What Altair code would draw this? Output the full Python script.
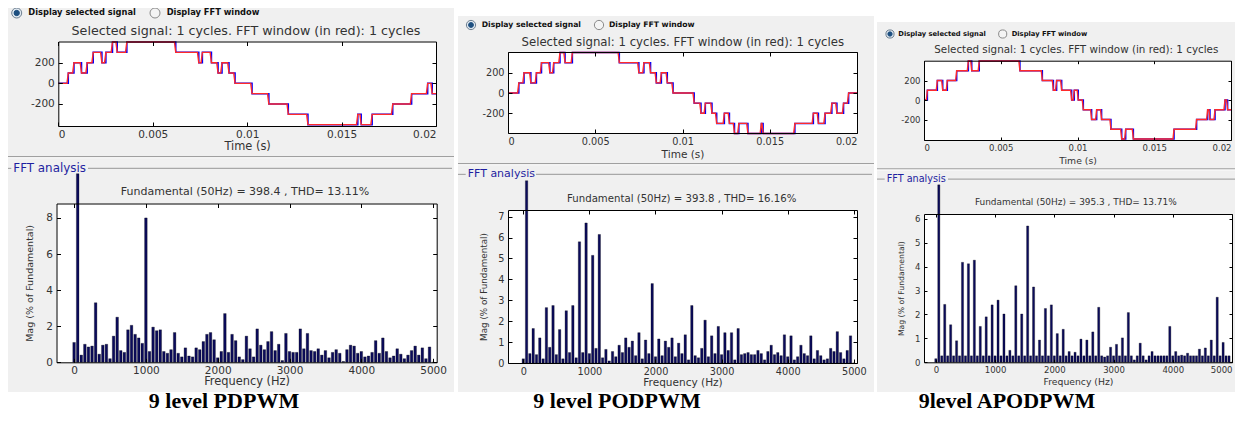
import altair as alt
import pandas as pd

# ---------------- canvas ----------------
W, H = 1227, 405
OX, OY = 8, 8


def vx(x):
    return round(x - OX, 2)


def vy(y):
    return round(y - OY, 2)


FONT = "DejaVu Sans"
SERIF = "Liberation Serif"
TXT = "#333333"

# ---------------- data ----------------
captions = ["9 level PDPWM", "9 level PODPWM", "9level APODPWM"]
fund_texts = [
    "Fundamental (50Hz) = 398.4 , THD= 13.11%",
    "Fundamental (50Hz) = 393.8 , THD= 16.16%",
    "Fundamental (50Hz) = 395.3 , THD= 13.71%",
]
sel_title = "Selected signal: 1 cycles. FFT window (in red): 1 cycles"
radio_labels = ["Display selected signal", "Display FFT window"]
fft_label = "FFT analysis"
time_title = "Time (s)"
freq_title = "Frequency (Hz)"
mag_title = "Mag (% of Fundamental)"

# harmonic frequencies (Hz)
freqs = [50 * k for k in range(101)]

# FFT magnitudes (% of fundamental), fundamental bar shown at its visible (clipped) height
mag_pd = [1.1, 10.45, 0.4, 1.0, 0.85, 0.9, 3.3, 0.45, 0.95, 1.0,
          0.2, 1.45, 2.5, 0.65, 0.55, 1.8, 2.05, 1.55, 1.35, 1.05,
          8.0, 0.6, 1.95, 1.75, 1.8, 0.6, 0.5, 0.7, 1.65, 0.5,
          0.3, 0.8, 0.35, 0.3, 0.8, 0.7, 1.15, 1.55, 1.65, 1.25,
          0.25, 0.6, 2.7, 0.55, 1.55, 1.2, 0.3, 0.15, 1.45, 0.75,
          0.3, 1.85, 0.95, 0.7, 1.15, 1.7, 0.65, 1.0, 0.1, 1.6,
          0.6, 0.55, 0.55, 1.85, 0.75, 1.6, 0.65, 0.6, 0.75, 0.4,
          0.65, 0.25, 0.55, 0.7, 0.5, 0.05, 0.7, 0.95, 0.9, 0.5,
          0.6, 0.3, 0.35, 0.55, 1.2, 0.5, 1.35, 0.6, 0.25, 0.35,
          0.75, 0.45, 0.2, 0.4, 0.65, 0.9, 0.4, 0.8, 0.2, 0.85,
          0.0]
mag_pod = [0.2, 8.72, 0.45, 1.65, 0.4, 1.2, 0.2, 2.65, 0.75, 2.75,
           0.4, 1.6, 0.2, 2.5, 0.5, 2.75, 0.25, 5.8, 0.5, 6.7,
           0.45, 5.15, 0.7, 6.15, 0.25, 0.65, 0.1, 0.55, 0.3, 0.85,
           0.5, 1.2, 0.75, 1.05, 0.35, 1.45, 0.2, 1.1, 0.45, 3.8,
           0.3, 1.15, 0.35, 1.05, 0.75, 1.2, 0.3, 0.95, 0.45, 1.35,
           0.15, 2.75, 0.35, 0.25, 0.7, 2.05, 0.3, 1.3, 0.45, 1.75,
           0.4, 1.45, 0.6, 1.45, 0.15, 1.65, 0.4, 0.45, 0.5, 0.4,
           0.4, 0.6, 0.45, 0.15, 0.55, 0.85, 0.4, 0.5, 0.35, 1.35,
           0.3, 1.3, 0.15, 0.3, 0.85, 0.45, 0.35, 1.3, 0.2, 0.6,
           0.35, 0.15, 0.2, 0.7, 0.55, 1.5, 0.5, 0.2, 0.6, 1.3,
           0.0]
mag_apod = [0.15, 7.42, 0.27, 2.42, 0.27, 1.57, 0.27, 0.9, 0.27, 4.18,
            0.27, 4.12, 0.27, 4.27, 0.27, 1.5, 0.27, 1.9, 0.27, 2.4,
            0.27, 2.6, 0.27, 2.02, 0.27, 0.5, 0.27, 3.2, 0.27, 2.02,
            0.27, 5.7, 0.27, 3.15, 0.27, 0.93, 0.27, 2.25, 0.27, 2.4,
            0.27, 1.2, 0.27, 1.38, 0.27, 0.45, 0.27, 0.42, 0.27, 0.97,
            0.27, 0.93, 0.27, 1.27, 0.27, 2.3, 0.27, 0.22, 0.27, 0.63,
            0.27, 0.75, 0.27, 1.02, 0.27, 2.08, 0.27, 0.1, 0.27, 0.8,
            0.27, 0.1, 0.27, 0.45, 0.27, 0.27, 0.27, 0.27, 0.27, 1.5,
            0.27, 0.45, 0.27, 0.3, 0.27, 0.38, 0.27, 0.27, 0.27, 0.55,
            0.27, 0.6, 0.27, 0.93, 0.27, 2.72, 0.27, 0.83, 0.27, 0.27,
            0.0]

# staircase output voltage: switching instants (ms) and level after each instant (V)
t_pd = [0, 0.53, 0.83, 1.23, 1.53, 1.85, 2.31, 2.52, 2.87, 3.12,
        3.63, 6.22, 7.44, 7.63, 8.11, 8.46, 8.67, 9.04, 9.36, 10.26,
        11.15, 12.18, 13.22, 15.86, 16.04, 16.62, 17.71, 18.71, 19.56, 19.8,
        20]
v_pd = [0, 100, 200, 100, 200, 300, 200, 300, 400, 300,
        400, 300, 200, 300, 200, 100, 200, 100, 0, -100,
        -200, -300, -400, -300, -400, -300, -200, -100, 0, -100,
        -100]
t_pod = [0, 0.62, 0.92, 1.31, 1.63, 1.92, 2.40, 2.62, 2.98, 3.27,
         3.69, 6.38, 7.50, 7.79, 8.17, 8.50, 8.79, 9.13, 9.46, 10.67,
         11.06, 11.31, 11.69, 11.96, 12.40, 12.69, 12.98, 13.23, 13.75, 14.52,
         14.62, 16.44, 17.5, 17.79, 18.17, 18.56, 18.85, 19.23, 19.52, 20]
v_pod = [0, 100, 200, 100, 200, 300, 200, 300, 400, 300,
         400, 300, 200, 300, 200, 100, 200, 100, 0, -100,
         -200, -100, -200, -300, -200, -300, -400, -300, -400, -300,
         -400, -300, -200, -300, -200, -100, -200, -100, 0, 0]
t_apod = [0, 0.22, 0.87, 1.22, 1.52, 2.13, 2.89, 3.11, 3.60, 6.25,
          7.71, 8.43, 8.64, 8.97, 9.62, 9.79, 10.05, 10.38, 10.92, 11.25,
          11.57, 12.18, 12.88, 13.14, 13.64, 16.29, 17.76, 18.48, 18.63, 18.96,
          19.61, 19.78, 20]
v_apod = [0, 100, 200, 100, 200, 300, 400, 300, 400, 300,
          200, 100, 200, 100, 0, 100, 0, -100, -200, -100,
          -200, -300, -400, -300, -400, -300, -200, -100, -200, -100,
          0, -100, -100]

time_ticks = [0, 0.005, 0.01, 0.015, 0.02]
volt_ticks = [-200, 0, 200]
freq_ticks = [0, 1000, 2000, 3000, 4000, 5000]
mag_ticks = [[0, 2, 4, 6, 8], [0, 1, 2, 3, 4, 5, 6, 7], [0, 1, 2, 3, 4, 5, 6]]
mag_domains = [[0, 8.8], [0, 7.32], [0, 6.2]]
volt_domains = [[-413, 405], [-395, 405], [-410, 403]]
freq_domains = [[-245, 5050], [-231, 5048], [-200, 5000]]
signals = [(t_pd, v_pd), (t_pod, v_pod), (t_apod, v_apod)]
mags = [mag_pd, mag_pod, mag_apod]

# ---------------- layout (page pixels) ----------------
panels = [
    dict(g=(6, 7, 454, 392), k=1.0, radio_y=13, c1=16.7, t1=28.3, c2=155, t2=166.7,
         title=(246, 30.7), top=(58.3, 41.5, 436, 126), time_dy=20.7, sep_y=156,
         fft_y=168.3, fft_x=(13.3, 86), fund=(245, 191.7), bot=(56.5, 203.5, 436.7, 362.3),
         freq_dy=19.5, mag_x=29, cap_x=224, tl=4),
    dict(g=(458, 16, 874, 392), k=0.925, radio_y=25, c1=471, t1=481.7, c2=599, t2=609,
         title=(682.8, 41.7), top=(508, 52, 857, 133), time_dy=21.5, sep_y=163,
         fft_y=174.3, fft_x=(467.7, 534), fund=(681.7, 198.7), bot=(508, 210, 857, 363),
         freq_dy=19, mag_x=483.3, cap_x=617, tl=4),
    dict(g=(877, 22, 1243, 392), k=0.814, radio_y=34, c1=890, t1=898.3, c2=1002.7, t2=1011.7,
         title=(1076.3, 50), top=(924, 60.7, 1231, 140), time_dy=20.7, sep_y=168.3,
         fft_y=179, fft_x=(886.7, 946), fund=(1075.8, 202.3), bot=(924, 214, 1232, 362.3),
         freq_dy=19.5, mag_x=901.7, cap_x=1007, tl=3),
]
CAP_BASE = 408.2
CAP_SIZE = 22
RED_SLOPE_MS = 0.07   # red (FFT window) edges drawn slightly slanted so the blue edges show

LABEL_EXPR = "replace(format(datum.value, '~g'), '\u2212', '-')"

# ---------------- decoration ----------------
rects, txt_c, txt_l, txt_b, txt_cap, dots = [], [], [], [], [], []
for i, p in enumerate(panels):
    gx0, gy0, gx1, gy1 = p["g"]
    k = p["k"]
    rects.append(dict(x=vx(gx0), x2=vx(gx1), y=vy(gy0), y2=vy(gy1), c="#f0f0f0"))
    for box in (p["top"], p["bot"]):
        rects.append(dict(x=vx(box[0]), x2=vx(box[2]), y=vy(box[1]), y2=vy(box[3]), c="#ffffff"))
    rects.append(dict(x=vx(gx0), x2=vx(gx1), y=vy(p["sep_y"]), y2=vy(p["sep_y"] + 1.2), c="#a0a0a0"))
    rects.append(dict(x=vx(gx0), x2=vx(gx1), y=vy(p["sep_y"] + 1.2), y2=vy(p["sep_y"] + 2.2), c="#fbfbfb"))
    fy = p["fft_y"]
    rects.append(dict(x=vx(gx0), x2=vx(p["fft_x"][0] - 2), y=vy(fy - 0.5), y2=vy(fy + 0.7), c="#a8a8a8"))
    rects.append(dict(x=vx(p["fft_x"][1] + 2), x2=vx(gx1 - 2), y=vy(fy - 0.5), y2=vy(fy + 0.7), c="#a8a8a8"))

    txt_c.append(dict(x=vx(p["title"][0]), y=vy(p["title"][1]), s=sel_title, fs=12.7 * k, c=TXT))
    txt_c.append(dict(x=vx(p["fund"][0]), y=vy(p["fund"][1]), s=fund_texts[i], fs=11.0 * k, c=TXT))
    txt_l.append(dict(x=vx(p["fft_x"][0]), y=vy(fy), s=fft_label, fs=11.9 * k, c="#1f1fa0"))
    txt_b.append(dict(x=vx(p["t1"]), y=vy(p["radio_y"]), s=radio_labels[0], fs=8.3 * k, c="#111111"))
    txt_b.append(dict(x=vx(p["t2"]), y=vy(p["radio_y"]), s=radio_labels[1], fs=8.3 * k, c="#111111"))
    txt_cap.append(dict(x=vx(p["cap_x"]), y=vy(CAP_BASE), s=captions[i], fs=CAP_SIZE, c="#000000"))
    dots.append(dict(x=vx(p["c1"]), y=vy(p["radio_y"]), sz=100 * k * k, f="#dfe8f0", st="#6d7f90"))
    dots.append(dict(x=vx(p["c2"]), y=vy(p["radio_y"]), sz=100 * k * k, f="#f4f4f4", st="#8a8a8a"))
    dots.append(dict(x=vx(p["c1"]), y=vy(p["radio_y"]), sz=28 * k * k, f="#1d4f80", st="#1d4f80"))

layers = []
layers.append(
    alt.Chart(pd.DataFrame(rects)).mark_rect().encode(
        x=alt.X("x:Q", scale=None), x2="x2:Q",
        y=alt.Y("y:Q", scale=None), y2="y2:Q",
        color=alt.Color("c:N", scale=None),
    )
)


def text_layer(rows, align, font, weight, baseline="middle"):
    return alt.Chart(pd.DataFrame(rows)).mark_text(
        align=align, baseline=baseline, font=font, fontWeight=weight
    ).encode(
        x=alt.X("x:Q", scale=None), y=alt.Y("y:Q", scale=None),
        text="s:N", size=alt.Size("fs:Q", scale=None), color=alt.Color("c:N", scale=None),
    )


layers.append(text_layer(txt_c, "center", FONT, "normal"))
layers.append(text_layer(txt_l, "left", FONT, "normal"))
layers.append(text_layer(txt_b, "left", FONT, "bold"))
layers.append(text_layer(txt_cap, "center", SERIF, "bold", baseline="alphabetic"))
layers.append(
    alt.Chart(pd.DataFrame(dots)).mark_circle(opacity=1, strokeWidth=1).encode(
        x=alt.X("x:Q", scale=None), y=alt.Y("y:Q", scale=None),
        size=alt.Size("sz:Q", scale=None),
        fill=alt.Fill("f:N", scale=None), stroke=alt.Stroke("st:N", scale=None),
    )
)


# ---------------- plots ----------------
def axis_sets(box, xticks, yticks, k, xtitle, ytitle, title_dy, mag_x, tl):
    x0, y0, x1, y1 = box
    base = dict(zindex=1, grid=False, domainColor="black", domainWidth=1,
                tickColor="black", tickWidth=1, labelFont=FONT, labelColor=TXT)
    xa = alt.Axis(orient="bottom", offset=vy(y1) - H, values=xticks, ticks=False,
                  domain=True, labels=True, labelFontSize=10.5 * k, labelPadding=3,
                  labelExpr=LABEL_EXPR, title=xtitle, titleFont=FONT,
                  titleFontSize=11.4 * k, titleFontWeight="normal", titleColor=TXT,
                  titleY=title_dy, titleBaseline="middle", **base)
    ya_kw = dict(orient="left", offset=-vx(x0), values=yticks, ticks=False, domain=True,
                 labels=True, labelFontSize=10.5 * k, labelPadding=4,
                 labelExpr=LABEL_EXPR, **base)
    if ytitle:
        ya = alt.Axis(title=ytitle, titleFont=FONT, titleFontSize=9.5 * k,
                      titleFontWeight="normal", titleColor=TXT,
                      titleX=mag_x - x0, titleBaseline="middle", **ya_kw)
    else:
        ya = alt.Axis(title=None, **ya_kw)
    xb = alt.Axis(orient="top", offset=-vy(y1), values=xticks, ticks=True, tickSize=tl,
                  labels=False, domain=False, title=None, **base)
    yb = alt.Axis(orient="right", offset=vx(x0) - W, values=yticks, ticks=True, tickSize=tl,
                  labels=False, domain=False, title=None, **base)
    xc = alt.Axis(orient="bottom", offset=vy(y0) - H, values=xticks, ticks=True, tickSize=tl,
                  labels=False, domain=True, title=None, **base)
    yc = alt.Axis(orient="left", offset=-vx(x1), values=yticks, ticks=True, tickSize=tl,
                  labels=False, domain=True, title=None, **base)
    return (xa, ya), (xb, yb), (xc, yc)


def scales(box, xdom, ydom):
    x0, y0, x1, y1 = box
    xs = alt.Scale(domain=xdom, range=[vx(x0), vx(x1)], nice=False, zero=False)
    ys = alt.Scale(domain=ydom, range=[vy(y1), vy(y0)], nice=False, zero=False)
    return xs, ys


for i, p in enumerate(panels):
    k = p["k"]
    # ---- time-domain signal ----
    t_ms, lv = signals[i]
    sig = pd.DataFrame({"t": [t / 1000.0 for t in t_ms], "v": lv})
    # red trace: same switching instants, each edge drawn as a short slope
    rt, rv = [], []
    for j in range(len(t_ms)):
        if j > 0:
            rt.append(max(t_ms[j] - RED_SLOPE_MS, t_ms[j - 1]) / 1000.0)
            rv.append(lv[j - 1])
        rt.append(t_ms[j] / 1000.0)
        rv.append(lv[j])
    red = pd.DataFrame({"t": rt, "v": rv})
    xs, ys = scales(p["top"], [0, 0.02], volt_domains[i])
    A, B, C = axis_sets(p["top"], time_ticks, volt_ticks, k, time_title, None,
                        p["time_dy"], 0, p["tl"])
    layers.append(alt.Chart(sig).mark_line(interpolate="step-after", color="#0000ff",
                                           strokeWidth=1.5).encode(
        x=alt.X("t:Q", scale=xs, axis=A[0]), y=alt.Y("v:Q", scale=ys, axis=A[1])))
    layers.append(alt.Chart(red).mark_line(color="#ff2a2a", strokeWidth=1.4).encode(
        x=alt.X("t:Q", scale=xs, axis=B[0]), y=alt.Y("v:Q", scale=ys, axis=B[1])))
    layers.append(alt.Chart(sig).mark_point(opacity=0).encode(
        x=alt.X("t:Q", scale=xs, axis=C[0]), y=alt.Y("v:Q", scale=ys, axis=C[1])))

    # ---- FFT spectrum ----
    fft = pd.DataFrame({"f": freqs, "m": mags[i]})
    xs2, ys2 = scales(p["bot"], freq_domains[i], mag_domains[i])
    A2, B2, C2 = axis_sets(p["bot"], freq_ticks, mag_ticks[i], k, freq_title, mag_title,
                           p["freq_dy"], p["mag_x"], p["tl"])
    layers.append(alt.Chart(fft).transform_calculate(
        f0="datum.f - 18", f1="datum.f + 18", z="0").mark_rect(
        color="#0b0b5c", stroke="#000000", strokeWidth=0.3).encode(
        x=alt.X("f0:Q", scale=xs2, axis=A2[0]), x2="f1:Q",
        y=alt.Y("m:Q", scale=ys2, axis=A2[1]), y2="z:Q"))
    layers.append(alt.Chart(fft).mark_point(opacity=0).encode(
        x=alt.X("f:Q", scale=xs2, axis=B2[0]), y=alt.Y("m:Q", scale=ys2, axis=B2[1])))
    layers.append(alt.Chart(fft).mark_point(opacity=0).encode(
        x=alt.X("f:Q", scale=xs2, axis=C2[0]), y=alt.Y("m:Q", scale=ys2, axis=C2[1])))

chart = alt.layer(*layers).properties(
    width=W, height=H, padding=0, background="white",
    autosize=alt.AutoSizeParams(type="none"),
).resolve_scale(x="independent", y="independent").resolve_axis(
    x="independent", y="independent"
).configure_view(stroke=None)

chart.save("out.html", embed_options={"renderer": "svg", "actions": False})
